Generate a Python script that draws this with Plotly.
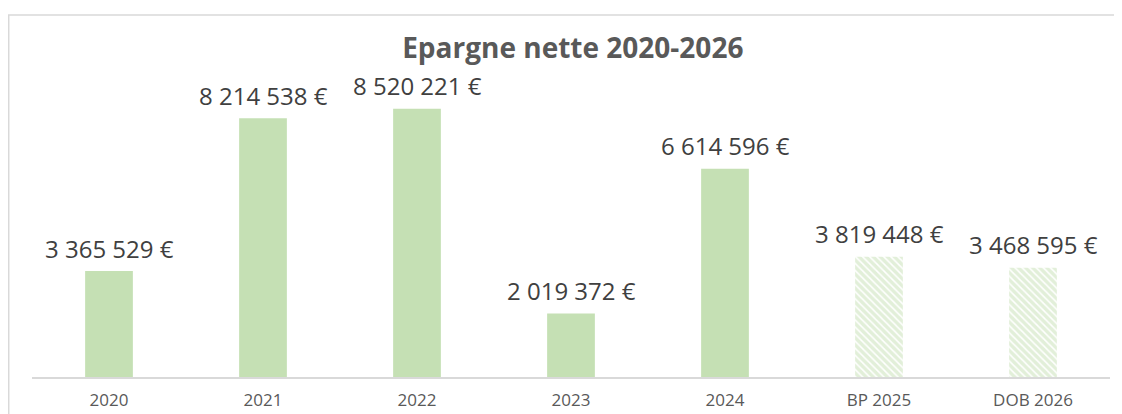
import plotly.graph_objects as go

# ─── DATA ────────────────────────────────────────────────────────────────────
categories = ["2020", "2021", "2022", "2023", "2024", "BP 2025", "DOB 2026"]
values = [3365529, 8214538, 8520221, 2019372, 6614596, 3819448, 3468595]
forecast = [False, False, False, False, False, True, True]

GREEN = "#C5E0B4"
TEXT = "#404040"
MUTED = "#595959"
FONT = "Open Sans, Noto Sans, sans-serif"


def fmt_eur(v):
    return f"{v:,}".replace(",", " ") + " €"


labels = [fmt_eur(v) for v in values]

fig = go.Figure(go.Bar(
    x=categories,
    y=values,
    width=0.31,
    marker=dict(
        color=GREEN,
        line=dict(width=0),
        pattern=dict(
            shape=["\\" if f else "" for f in forecast],
            fgcolor=[GREEN] * len(values),
            bgcolor=["white"] * len(values),
            size=5,
            solidity=0.7,
        ),
    ),
    cliponaxis=False,
))

# value labels above each bar (x given as category index: "2020" would be read as a number)
for i, (val, lab) in enumerate(zip(values, labels)):
    fig.add_annotation(
        x=i, y=val, text=lab, showarrow=False,
        xanchor="center", yanchor="middle", yshift=23,
        font=dict(family=FONT, size=24, color=TEXT),
    )

# light grey frame of the chart area (cut by the window right and bottom)
fig.add_shape(
    type="rect", xref="paper", yref="paper",
    x0=-0.0216, x1=1.03, y0=-0.3, y1=1.1384,
    line=dict(color="#D9D9D9", width=1.5),
    fillcolor="rgba(0,0,0,0)",
    layer="below",
)

fig.update_layout(
    width=1114,
    height=406,
    paper_bgcolor="white",
    plot_bgcolor="white",
    margin=dict(l=24, r=12, t=51, b=37, autoexpand=False),
    showlegend=False,
    title=dict(
        text="<b>Epargne nette 2020-2026</b>",
        font=dict(family=FONT, size=28, color=MUTED),
        x=0.507, xanchor="center", y=0.9, yanchor="middle",
    ),
    xaxis=dict(
        type="category",
        categoryorder="array",
        categoryarray=categories,
        range=[-0.5, len(categories) - 0.5],
        automargin=False,
        showline=True,
        linecolor="#D9D9D9",
        linewidth=1.5,
        showgrid=False,
        ticks="",
        ticklabelstandoff=7,
        tickfont=dict(family=FONT, size=17, color=MUTED),
    ),
    yaxis=dict(
        range=[0, 10100000],
        visible=False,
        showgrid=False,
        zeroline=False,
    ),
)

fig.write_html("out.html")
